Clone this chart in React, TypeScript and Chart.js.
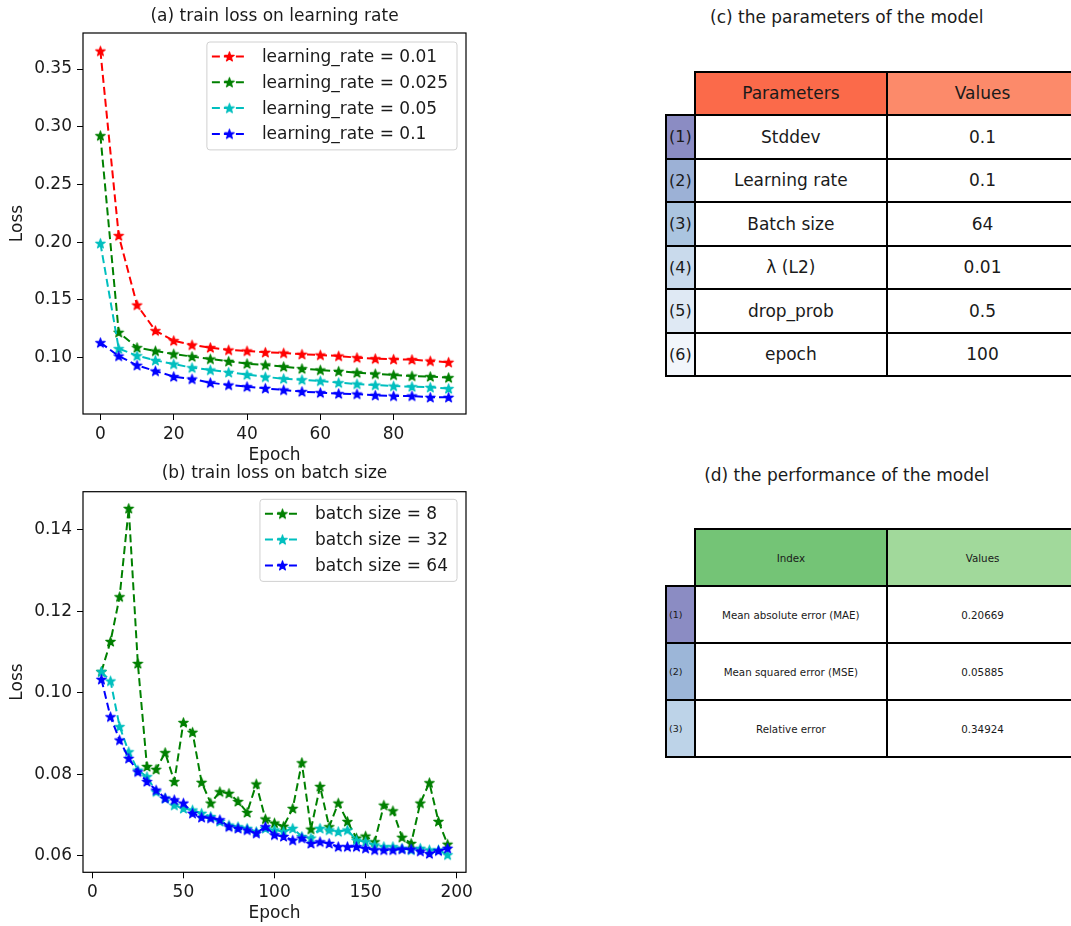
import React, { useEffect, useRef } from 'react';
import { Chart, registerables } from 'chart.js';

Chart.register(...registerables);

const FONT = '"DejaVu Sans", sans-serif';
const FS = 17;
const TXT = '#1a1a1a';

// ---------- (a) train loss on learning rate ----------
const epochsA = [0, 5, 10, 15, 20, 25, 30, 35, 40, 45, 50, 55, 60, 65, 70, 75, 80, 85, 90, 95];
const lossLr001 = [0.3656, 0.2057, 0.1456, 0.1234, 0.1147, 0.111, 0.1087, 0.1066, 0.1058, 0.1046, 0.104, 0.1029, 0.1023, 0.1014, 0.1, 0.0991, 0.0986, 0.0983, 0.0971, 0.096];
const lossLr0025 = [0.2923, 0.1219, 0.1087, 0.1058, 0.1032, 0.1009, 0.0988, 0.0968, 0.0948, 0.0937, 0.0922, 0.0905, 0.0893, 0.0882, 0.087, 0.0859, 0.085, 0.0841, 0.0836, 0.0827];
const lossLr005 = [0.199, 0.1078, 0.1017, 0.0977, 0.0945, 0.0913, 0.0893, 0.0873, 0.0853, 0.0833, 0.0818, 0.0809, 0.0798, 0.0783, 0.0772, 0.0763, 0.0754, 0.0749, 0.0743, 0.0732];
const lossLr01 = [0.113, 0.1014, 0.0934, 0.0884, 0.0836, 0.0815, 0.0783, 0.0763, 0.0749, 0.0734, 0.072, 0.0706, 0.0697, 0.0688, 0.0685, 0.0674, 0.0668, 0.0668, 0.0656, 0.0656];
const labelsA = ['learning_rate = 0.01', 'learning_rate = 0.025', 'learning_rate = 0.05', 'learning_rate = 0.1'];
const xTicksA = [0, 20, 40, 60, 80];
const yTicksA = [0.1, 0.15, 0.2, 0.25, 0.3, 0.35];

// ---------- (b) train loss on batch size ----------
const epochsB = [5, 10, 15, 20, 25, 30, 35, 40, 45, 50, 55, 60, 65, 70, 75, 80, 85, 90, 95, 100, 105, 110, 115, 120, 125, 130, 135, 140, 145, 150, 155, 160, 165, 170, 175, 180, 185, 190, 195];
const lossBatch8 = [0.1052, 0.1126, 0.1236, 0.1453, 0.1072, 0.0819, 0.0812, 0.0853, 0.0782, 0.0927, 0.0903, 0.078, 0.0729, 0.0757, 0.0753, 0.0733, 0.0706, 0.0776, 0.069, 0.068, 0.0672, 0.0716, 0.0828, 0.0665, 0.077, 0.0671, 0.0729, 0.0684, 0.0643, 0.0648, 0.0634, 0.0724, 0.071, 0.0645, 0.063, 0.0729, 0.0779, 0.0684, 0.0628];
const lossBatch32 = [0.1052, 0.1029, 0.0917, 0.0855, 0.081, 0.0794, 0.0757, 0.0741, 0.0724, 0.0716, 0.0712, 0.0704, 0.0696, 0.0684, 0.0675, 0.0671, 0.0667, 0.0659, 0.0667, 0.0663, 0.0659, 0.0667, 0.0647, 0.0643, 0.0667, 0.0663, 0.0659, 0.0663, 0.0638, 0.0634, 0.0626, 0.0622, 0.0622, 0.0618, 0.0614, 0.0618, 0.0614, 0.0614, 0.0602];
const lossBatch64 = [0.1033, 0.0941, 0.0884, 0.0839, 0.0806, 0.0782, 0.0761, 0.0741, 0.0737, 0.0729, 0.0704, 0.0694, 0.0692, 0.0688, 0.0671, 0.0667, 0.0663, 0.0655, 0.0671, 0.0651, 0.0647, 0.0638, 0.0643, 0.063, 0.0634, 0.063, 0.0622, 0.0622, 0.0622, 0.0618, 0.0614, 0.0614, 0.0614, 0.0616, 0.0616, 0.0611, 0.0605, 0.0612, 0.0618];
const labelsB = ['batch size = 8', 'batch size = 32', 'batch size = 64'];
const xTicksB = [0, 50, 100, 150, 200];
const yTicksB = [0.06, 0.08, 0.1, 0.12, 0.14];

// ---------- tables ----------
const paramHeaders = ['Parameters', 'Values'];
const paramRowLabels = ['(1)', '(2)', '(3)', '(4)', '(5)', '(6)'];
const paramNames = ['Stddev', 'Learning rate', 'Batch size', 'λ (L2)', 'drop_prob', 'epoch'];
const paramValues = ['0.1', '0.1', '64', '0.01', '0.5', '100'];
const paramHeaderColors = ['#fb6a4a', '#fc8a6a'];
const paramLabelColors = ['#8b8cc3', '#9cb1d6', '#abc5e0', '#c9daec', '#dfe9f4', '#f2f6fb'];

const perfHeaders = ['Index', 'Values'];
const perfRowLabels = ['(1)', '(2)', '(3)'];
const perfNames = ['Mean absolute error (MAE)', 'Mean squared error (MSE)', 'Relative error'];
const perfValues = ['0.20669', '0.05885', '0.34924'];
const perfHeaderColors = ['#74c476', '#a1d99b'];
const perfLabelColors = ['#8b8cc3', '#9cb6d8', '#bdd3e8'];

function makeStar(color: string): HTMLCanvasElement {
  const s = 13;
  const c = document.createElement('canvas');
  c.width = s;
  c.height = s;
  const g = c.getContext('2d')!;
  const cx = s / 2, cy = s / 2 + 0.4, R = 5.0, r = R * 0.382;
  g.beginPath();
  for (let i = 0; i < 10; i++) {
    const rad = i % 2 === 0 ? R : r;
    const a = -Math.PI / 2 + (i * Math.PI) / 5;
    const px = cx + rad * Math.cos(a);
    const py = cy + rad * Math.sin(a);
    if (i === 0) g.moveTo(px, py);
    else g.lineTo(px, py);
  }
  g.closePath();
  g.fillStyle = color;
  g.fill();
  g.lineWidth = 1.2;
  g.lineJoin = 'round';
  g.strokeStyle = color;
  g.stroke();
  return c;
}

type Series = { label: string; xs: number[]; ys: number[]; color: string };

type PanelProps = {
  left: number; top: number; width: number; height: number;
  title: string; titleY: number; topPad: number;
  series: Series[];
  xMin: number; xMax: number; yMin: number; yMax: number;
  xTicks: number[]; yTicks: number[];
  yAxisWidth: number; xAxisHeight: number; rightPad: number;
  xTitlePadBottom: number; yTitlePadTop: number;
  legendTop: number;
};

function LinePanel(p: PanelProps) {
  const ref = useRef<HTMLCanvasElement | null>(null);
  useEffect(() => {
    const canvas = ref.current!;
    const stars = p.series.map((s) => makeStar(s.color));
    const frameLegend = {
      id: 'frameLegend',
      afterDatasetsDraw(chart: any) {
        const ctx = chart.ctx as CanvasRenderingContext2D;
        const a = chart.chartArea;
        ctx.save();
        ctx.strokeStyle = '#000';
        ctx.lineWidth = 1.2;
        ctx.setLineDash([]);
        ctx.strokeRect(a.left, a.top, a.right - a.left, a.bottom - a.top);
        // title centered over the plot area
        ctx.font = `${FS}px ${FONT}`;
        ctx.fillStyle = TXT;
        ctx.textAlign = 'center';
        ctx.textBaseline = 'middle';
        ctx.fillText(p.title, (a.left + a.right) / 2, p.titleY);
        // legend
        const tw = Math.max(...p.series.map((s) => ctx.measureText(s.label).width));
        const rowH = 25.8;
        const w = 55 + tw + 9;
        const h = 14.5 + (p.series.length - 1) * rowH + 16;
        const x0 = a.right - 9 - w;
        const y0 = a.top + p.legendTop;
        const rr = 3;
        ctx.beginPath();
        ctx.moveTo(x0 + rr, y0);
        ctx.lineTo(x0 + w - rr, y0);
        ctx.quadraticCurveTo(x0 + w, y0, x0 + w, y0 + rr);
        ctx.lineTo(x0 + w, y0 + h - rr);
        ctx.quadraticCurveTo(x0 + w, y0 + h, x0 + w - rr, y0 + h);
        ctx.lineTo(x0 + rr, y0 + h);
        ctx.quadraticCurveTo(x0, y0 + h, x0, y0 + h - rr);
        ctx.lineTo(x0, y0 + rr);
        ctx.quadraticCurveTo(x0, y0, x0 + rr, y0);
        ctx.closePath();
        ctx.fillStyle = 'rgba(255,255,255,0.8)';
        ctx.fill();
        ctx.strokeStyle = '#d0d0d0';
        ctx.lineWidth = 1;
        ctx.stroke();
        p.series.forEach((s, i) => {
          const cy = y0 + 14.5 + i * rowH;
          ctx.beginPath();
          ctx.setLineDash([8, 4]);
          ctx.strokeStyle = s.color;
          ctx.lineWidth = 2;
          ctx.moveTo(x0 + 5, cy);
          ctx.lineTo(x0 + 40, cy);
          ctx.stroke();
          ctx.setLineDash([]);
          const st = stars[i];
          ctx.drawImage(st, x0 + 22.5 - st.width / 2, cy - st.height / 2);
          ctx.fillStyle = TXT;
          ctx.textAlign = 'left';
          ctx.textBaseline = 'middle';
          ctx.fillText(s.label, x0 + 55, cy + 1);
        });
        ctx.restore();
      },
    };
    const font = { family: FONT, size: FS, weight: 'normal' as const };
    const chart = new Chart(canvas, {
      type: 'line',
      data: {
        datasets: p.series.map((s, i) => ({
          label: s.label,
          data: s.xs.map((x, j) => ({ x, y: s.ys[j] })),
          borderColor: s.color,
          backgroundColor: s.color,
          borderWidth: 2,
          borderDash: [8, 4],
          pointStyle: stars[i] as any,
          pointRadius: 6,
          pointHoverRadius: 6,
          fill: false,
          tension: 0,
          order: p.series.length - 1 - i,
        })),
      },
      options: {
        responsive: false,
        animation: false,
        events: [],
        layout: { padding: { left: 0, right: p.rightPad, top: p.topPad, bottom: 0 } },
        plugins: {
          legend: { display: false },
          tooltip: { enabled: false },
          title: { display: false },
        },
        scales: {
          x: {
            type: 'linear',
            min: p.xMin,
            max: p.xMax,
            afterBuildTicks: (sc: any) => { sc.ticks = p.xTicks.map((v) => ({ value: v })); },
            afterFit: (sc: any) => { sc.height = p.xAxisHeight; },
            ticks: { color: TXT, font, padding: 4, maxRotation: 0, autoSkip: false, callback: (v: any) => String(v) },
            grid: { display: true, drawOnChartArea: false, drawTicks: true, tickLength: 6, color: '#000', lineWidth: 1 },
            border: { display: false },
            title: { display: true, text: 'Epoch', color: TXT, font, padding: { top: 0, bottom: p.xTitlePadBottom } },
          },
          y: {
            type: 'linear',
            min: p.yMin,
            max: p.yMax,
            afterBuildTicks: (sc: any) => { sc.ticks = p.yTicks.map((v) => ({ value: v })); },
            afterFit: (sc: any) => { sc.width = p.yAxisWidth; },
            ticks: { color: TXT, font, padding: 5, autoSkip: false, callback: (v: any) => Number(v).toFixed(2) },
            grid: { display: true, drawOnChartArea: false, drawTicks: true, tickLength: 6, color: '#000', lineWidth: 1 },
            border: { display: false },
            title: { display: true, text: 'Loss', color: TXT, font, padding: { top: p.yTitlePadTop, bottom: 0 } },
          },
        },
      },
      plugins: [frameLegend],
    } as any);
    return () => chart.destroy();
  }, []);
  return (
    <div style={{ position: 'absolute', left: p.left, top: p.top, width: p.width, height: p.height }}>
      <canvas ref={ref} width={p.width} height={p.height} style={{ display: 'block' }} />
    </div>
  );
}

type TableProps = {
  left: number; top: number; labelW: number; colW: number; headerH: number; rowH: number;
  headers: string[]; headerColors: string[]; rowLabels: string[]; labelColors: string[];
  names: string[]; values: string[]; fontSize: number; labelFontSize: number; border: number;
};

function ParamTable(t: TableProps) {
  const cells: React.ReactNode[] = [];
  const b = t.border;
  const cell = (key: string, x: number, y: number, w: number, h: number, bg: string, text: string, fs: number, alignLeft = false) => (
    <div
      key={key}
      style={{
        position: 'absolute', left: x - b / 2, top: y - b / 2, width: w + b, height: h + b,
        border: `${b}px solid #000`, boxSizing: 'border-box', background: bg,
        display: 'flex', alignItems: 'center', justifyContent: alignLeft ? 'flex-start' : 'center',
        paddingLeft: alignLeft ? 2 : 0, fontSize: fs, color: TXT, fontFamily: FONT, whiteSpace: 'nowrap',
      }}
    >
      {text}
    </div>
  );
  t.headers.forEach((h, j) => {
    cells.push(cell(`h${j}`, t.left + t.labelW + j * t.colW, t.top, t.colW, t.headerH, t.headerColors[j], h, t.fontSize));
  });
  t.rowLabels.forEach((lab, i) => {
    const y = t.top + t.headerH + i * t.rowH;
    cells.push(cell(`l${i}`, t.left, y, t.labelW, t.rowH, t.labelColors[i], lab, t.labelFontSize, true));
    cells.push(cell(`n${i}`, t.left + t.labelW, y, t.colW, t.rowH, '#fff', t.names[i], t.fontSize));
    cells.push(cell(`v${i}`, t.left + t.labelW + t.colW, y, t.colW, t.rowH, '#fff', t.values[i], t.fontSize));
  });
  return <>{cells}</>;
}

function Caption(props: { text: string; cx: number; cy: number }) {
  return (
    <div
      style={{
        position: 'absolute', left: props.cx - 250, width: 500, top: props.cy - 10, height: 20, lineHeight: '20px',
        textAlign: 'center', fontFamily: FONT, fontSize: FS, color: TXT, whiteSpace: 'nowrap',
      }}
    >
      {props.text}
    </div>
  );
}

export default function App() {
  const seriesA: Series[] = [
    { label: labelsA[0], xs: epochsA, ys: lossLr001, color: '#ff0000' },
    { label: labelsA[1], xs: epochsA, ys: lossLr0025, color: '#008000' },
    { label: labelsA[2], xs: epochsA, ys: lossLr005, color: '#00bfbf' },
    { label: labelsA[3], xs: epochsA, ys: lossLr01, color: '#0000ff' },
  ];
  const seriesB: Series[] = [
    { label: labelsB[0], xs: epochsB, ys: lossBatch8, color: '#008000' },
    { label: labelsB[1], xs: epochsB, ys: lossBatch32, color: '#00bfbf' },
    { label: labelsB[2], xs: epochsB, ys: lossBatch64, color: '#0000ff' },
  ];
  return (
    <div style={{ position: 'absolute', left: 0, top: 0, width: 1071, height: 926, overflow: 'hidden', background: '#fff' }}>
      <LinePanel
        left={0} top={0} width={480} height={470}
        title="(a) train loss on learning rate" titleY={17} topPad={33}
        series={seriesA}
        xMin={-4.75} xMax={99.75} yMin={0.0512} yMax={0.3812}
        xTicks={xTicksA} yTicks={yTicksA}
        yAxisWidth={83} xAxisHeight={56} rightPad={14}
        xTitlePadBottom={3.9} yTitlePadTop={7}
        legendTop={9}
      />
      <LinePanel
        left={0} top={462} width={480} height={464}
        title="(b) train loss on batch size" titleY={12} topPad={29.7}
        series={seriesB}
        xMin={-5.1} xMax={205.1} yMin={0.0559} yMax={0.1494}
        xTicks={xTicksB} yTicks={yTicksB}
        yAxisWidth={83} xAxisHeight={53.7} rightPad={14}
        xTitlePadBottom={1.9} yTitlePadTop={7}
        legendTop={7.6}
      />
      <Caption text="(c) the parameters of the model" cx={846.7} cy={17} />
      <ParamTable
        left={666} top={71.7} labelW={29} colW={191.7} headerH={43.3} rowH={43.5}
        headers={paramHeaders} headerColors={paramHeaderColors}
        rowLabels={paramRowLabels} labelColors={paramLabelColors}
        names={paramNames} values={paramValues} fontSize={FS} labelFontSize={16} border={2}
      />
      <Caption text="(d) the performance of the model" cx={846.7} cy={475} />
      <ParamTable
        left={666} top={529} labelW={29} colW={191.7} headerH={57} rowH={57}
        headers={perfHeaders} headerColors={perfHeaderColors}
        rowLabels={perfRowLabels} labelColors={perfLabelColors}
        names={perfNames} values={perfValues} fontSize={10.3} labelFontSize={9.5} border={2}
      />
    </div>
  );
}
